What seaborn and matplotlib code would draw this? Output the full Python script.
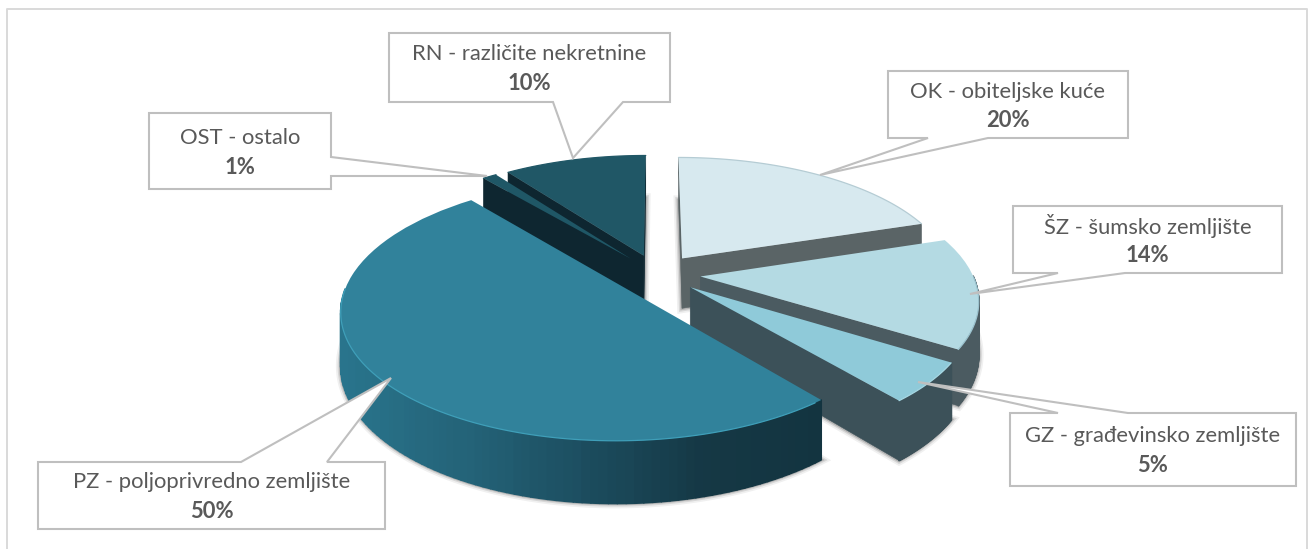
import matplotlib

matplotlib.use("Agg")
import matplotlib.pyplot as plt
import numpy as np
import seaborn as sns
from matplotlib.collections import PolyCollection
from matplotlib.patches import Polygon
from matplotlib.transforms import Transform

# clockwise from 12 o'clock
names = [
    "OK - obiteljske kuće",
    "ŠZ - šumsko zemljište",
    "GZ - građevinsko zemljište",
    "PZ - poljoprivredno zemljište",
    "OST - ostalo",
    "RN - različite nekretnine",
]
shares = [20, 14, 5, 50, 1, 10]
top_colors = ["#d7e9ef", "#b4dae3", "#8fcad9", "#31829b", "#1f5766", "#205766"]
cut_colors = ["#5a6466", "#4b5b61", "#3c5159", "#143540", "#0e2630", "#0e2630"]
rim_colors = [
    ["#5a6466"],
    ["#4b5b61"],
    ["#3c5159"],
    ["#29748c", "#246378", "#1c4d5f", "#153845", "#133440"],
    ["#0e2630"],
    ["#0e2630"],
]
line_colors = ["#b5ccd4", "#9cc3cf", "#a6d8e4", "#3f9fb9", "#1f5766", "#205766"]
stack_order = [1, 2, 3, 4, 2, 1]

# box corners left, top, right, bottom, then the callout base and tip
callouts = [
    (888, 71, 1128, 138, [(988, 138), (820, 175), (928, 138)]),
    (1013, 206, 1282, 273, [(1125, 273), (970, 294), (1058, 273)]),
    (1010, 413, 1296, 486, [(1128, 413), (918, 382), (1058, 413)]),
    (38, 462, 385, 529, [(327, 462), (391, 378), (241, 462)]),
    (149, 113, 331, 189, [(331, 176), (487, 176), (331, 157)]),
    (389, 33, 670, 102, [(623, 102), (573, 158), (553, 102)]),
]

EXPLODE = 0.16
CX, CY = 657, 274
RX, RY = 272, 123
TILT = 0.17
DEPTH = 51


class TiltTransform(Transform):
    """Unit pie coordinates to pixels, as seen from above and in perspective."""

    input_dims = 2
    output_dims = 2

    def __init__(self, drop=0.0):
        super().__init__()
        self.drop = drop

    def transform_non_affine(self, values):
        values = np.asarray(values, dtype=float)
        w = 1 + TILT * values[:, 1]
        return np.column_stack(
            [
                CX + RX * values[:, 0] / w,
                CY - RY * values[:, 1] / w + self.drop / w,
            ]
        )


def cross(a, b):
    return a[0] * b[1] - a[1] * b[0]


sns.set_theme(style="white")
plt.rcParams["font.family"] = ["Lato", "DejaVu Sans"]

fig = plt.figure(figsize=(13.09, 5.49), dpi=100)
ax = fig.add_axes([0, 0, 1, 1])
wedges, _ = ax.pie(
    shares,
    explode=[EXPLODE] * len(shares),
    colors=top_colors,
    startangle=90,
    counterclock=False,
    frame=True,
    wedgeprops={"linewidth": 0},
)
ax.set_aspect("auto")
ax.set_xlim(0, 1309)
ax.set_ylim(549, 0)
ax.axis("off")

top = TiltTransform()
bottom = TiltTransform(DEPTH)

for i, wedge in enumerate(wedges):
    z = stack_order[i] * 10
    wedge.set_transform(top + ax.transData)
    wedge.set_zorder(z + 5)

    center = np.array(wedge.center)
    ts = np.radians(np.linspace(wedge.theta1, wedge.theta2, 120))
    arc = center + np.column_stack([np.cos(ts), np.sin(ts)])
    arc_top = top.transform(arc)
    arc_bot = bottom.transform(arc)

    # soft shadow of the underside
    under = np.vstack([bottom.transform(center[None, :]), arc_bot])
    for lw, alpha in [(7, 0.06), (4.5, 0.1), (2.5, 0.16)]:
        ax.add_patch(
            Polygon(under, closed=True, fc="none", ec="black", lw=lw, alpha=alpha, zorder=z)
        )

    # cut faces, only the ones turned to the viewer
    apex_top = top.transform(center[None, :])[0]
    apex_bot = bottom.transform(center[None, :])[0]
    mid = np.radians((wedge.theta1 + wedge.theta2) / 2)
    inner = top.transform((center + 0.6 * np.array([np.cos(mid), np.sin(mid)]))[None, :])[0]
    for k in [0, -1]:
        edge = arc_top[k] - apex_top
        if cross(edge, (0, 1)) * cross(edge, inner - apex_top) < 0:
            ax.add_patch(
                Polygon(
                    [apex_top, arc_top[k], arc_bot[k], apex_bot],
                    closed=True,
                    fc=cut_colors[i],
                    ec=cut_colors[i],
                    lw=0.4,
                    zorder=z + 1,
                )
            )

    # outer wall, front part only
    front = np.where(arc[:-1, 1] - center[1] < 0)[0]
    if len(front):
        x_mid = arc_top[front, 0]
        pal = sns.blend_palette(rim_colors[i] * (2 if len(rim_colors[i]) == 1 else 1), 64)
        pos = (x_mid - x_mid.min()) / max(np.ptp(x_mid), 1)
        quads = [
            [arc_top[j], arc_top[j + 1], arc_bot[j + 1], arc_bot[j]] for j in front
        ]
        face = [pal[int(p * 63)] for p in pos]
        ax.add_collection(
            PolyCollection(quads, facecolors=face, edgecolors=face, linewidths=1.2, zorder=z + 2)
        )

    # thin bright rim along the top edge
    rim = arc_top[front] if len(front) else arc_top
    ax.plot(rim[:, 0], rim[:, 1], color=line_colors[i], lw=0.9, zorder=z + 6)

for (left, up, right, down, tip), name, share in zip(callouts, names, shares):
    box = [(left, up), (right, up), (right, down), (left, down)]
    # walk the outline and slot the callout into the side it leaves from
    if tip[0][1] == up:
        outline = [box[0]] + tip[::-1] + box[1:]
    elif tip[0][1] == down:
        outline = box[:3] + tip + [box[3]]
    elif tip[0][0] == right:
        outline = box[:2] + tip[::-1] + box[2:]
    else:
        outline = box
    ax.add_patch(
        Polygon(
            outline, closed=True, fc="white", ec="#bfbfbf", lw=1.5, joinstyle="miter", zorder=100
        )
    )
    xc = (left + right) / 2
    yc = (up + down) / 2
    ax.text(xc, yc - 13, name, ha="center", va="center", fontsize=15.8, color="#595959", zorder=101)
    ax.text(
        xc, yc + 16, f"{share}%", ha="center", va="center", fontsize=15.8,
        fontweight="bold", color="#595959", zorder=101,
    )

# chart frame, the picture is cut off before its lower edge
ax.plot([7, 7, 1307, 1307], [549, 9, 9, 549], color="#d9d9d9", lw=1.4, zorder=0)

fig.savefig("out.png", dpi=100)
